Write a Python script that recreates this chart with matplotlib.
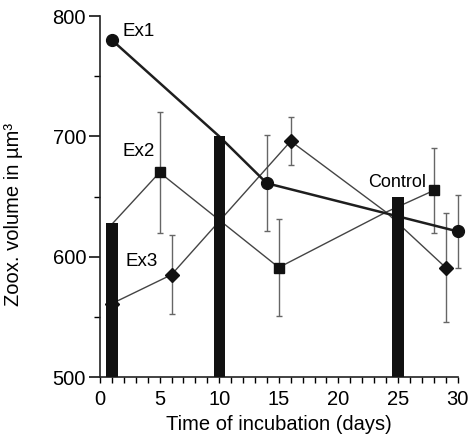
import numpy as np
import matplotlib
matplotlib.use("Agg")
import matplotlib.pyplot as plt
from matplotlib.ticker import MultipleLocator

plt.rcParams["font.family"] = ["Liberation Sans", "DejaVu Sans"]

# -----------------------------
# Data
# -----------------------------
# control bars
bar_days = [1, 10, 25]
bar_vals = [628, 700, 650]

# Ex1 (circles, heavy line)
ex1_days = [1, 10, 14, 30]
ex1_vals = [780, 700, 661, 621]
ex1_err = [0, 0, 40, 30]
ex1_marked = [0, 2, 3]

# Ex2 (squares)
ex2_days = [1, 5, 15, 24, 28]
ex2_vals = [627, 670, 591, 637, 655]
ex2_err = [0, 50, 40, 0, 35]
ex2_marked = [1, 2, 4]

# Ex3 (diamonds)
ex3_days = [1, 6, 16, 24, 29]
ex3_vals = [561, 585, 696, 637, 591]
ex3_err = [0, 33, 20, 0, 45]
ex3_marked = [0, 1, 2, 4]

# -----------------------------
# Plot
# -----------------------------
fig = plt.figure(figsize=(4.71, 4.36), dpi=100)
ax = fig.add_axes([0.2123, 0.1353, 0.7592, 0.828])

ax.bar(bar_days, [v - 500 for v in bar_vals], bottom=500, width=0.95,
       color="#111111", zorder=5)


def draw_series(days, vals, err, marked, marker, ms, lw, color):
    days = np.array(days)
    vals = np.array(vals)
    err = np.array(err)
    ax.plot(days, vals, color=color, lw=lw, zorder=3, clip_on=False)
    has_err = err > 0
    eb = ax.errorbar(days[has_err], vals[has_err], yerr=err[has_err], fmt="none",
                     ecolor="#666666", elinewidth=1.0, capsize=2.5, capthick=1.0,
                     zorder=2)
    for art in eb.lines[1] + eb.lines[2]:
        art.set_clip_on(False)
    ax.plot(days[marked], vals[marked], ls="none", marker=marker, ms=ms,
            mfc="#111111", mec="#111111", zorder=4, clip_on=False)


draw_series(ex2_days, ex2_vals, ex2_err, ex2_marked, "s", 7.5, 1.0, "#444444")
draw_series(ex3_days, ex3_vals, ex3_err, ex3_marked, "D", 7.5, 1.0, "#444444")
draw_series(ex1_days, ex1_vals, ex1_err, ex1_marked, "o", 8.5, 1.8, "#1e1e1e")

# labels on the series
ax.text(1.9, 787, "Ex1", fontsize=13.5, va="center", ha="left")
ax.text(1.9, 687, "Ex2", fontsize=13.5, va="center", ha="left")
ax.text(2.1, 596, "Ex3", fontsize=13.5, va="center", ha="left")
ax.text(24.9, 662, "Control", fontsize=13, va="center", ha="center")

ax.set_xlim(0, 30)
ax.set_ylim(500, 800)
ax.xaxis.set_major_locator(MultipleLocator(5))
ax.xaxis.set_minor_locator(MultipleLocator(1))
ax.yaxis.set_major_locator(MultipleLocator(100))
ax.yaxis.set_minor_locator(MultipleLocator(50))

for s in ["top", "right"]:
    ax.spines[s].set_visible(False)
for s in ["left", "bottom"]:
    ax.spines[s].set_linewidth(1.2)
    ax.spines[s].set_color("#222222")

ax.tick_params(axis="y", which="major", length=8, width=1.1, labelsize=14.5, pad=2)
ax.tick_params(axis="y", which="minor", length=4, width=1.0)
ax.tick_params(axis="x", which="major", length=4, width=1.0, labelsize=14.5, pad=5)
ax.tick_params(axis="x", which="minor", length=4, width=1.0)

ax.set_xlabel("Time of incubation (days)", fontsize=14.5, labelpad=5)
ax.set_ylabel("Zoox. volume in \u00b5m\u00b3", fontsize=14.5)
ax.yaxis.set_label_coords(-0.215, 0.45)

plt.savefig("out.png", dpi=100)
